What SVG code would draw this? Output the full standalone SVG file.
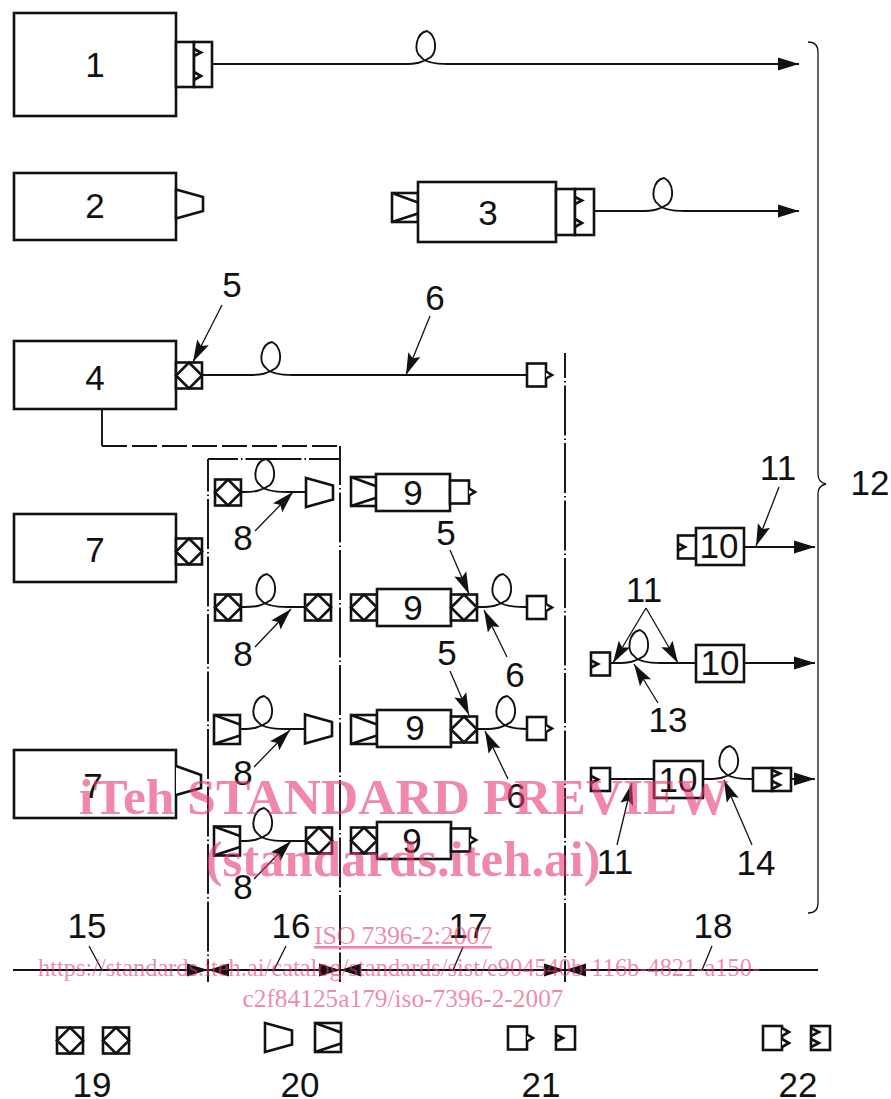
<svg xmlns="http://www.w3.org/2000/svg" width="891" height="1099" viewBox="0 0 891 1099">
<style>
text{font-family:"Liberation Sans",Arial,sans-serif;font-size:35px;fill:#111;text-anchor:middle}
.b{fill:#fff;stroke:#111;stroke-width:2.6;stroke-linejoin:miter}
.n{fill:none;stroke:#111;stroke-width:2.6}
.f{fill:none;stroke:#111;stroke-width:1.9}
.l{fill:none;stroke:#111;stroke-width:1.3}
.dd{fill:none;stroke:#111;stroke-width:1.9;stroke-dasharray:50 3 1.5 3}
.w{font-family:"Liberation Serif","Times New Roman",serif;fill:#e63a70;fill-opacity:.6}
.wb{font-weight:bold;font-size:51px}
.ws{font-size:26px}
</style>
<defs>
<marker id="a" markerUnits="userSpaceOnUse" viewBox="-24 -8 25 16" refX="0" refY="0" markerWidth="25" markerHeight="16" orient="auto"><path d="M0,0L-22,-6.500L-18,0L-22,6.500Z" fill="#111"/></marker>
<marker id="e" markerUnits="userSpaceOnUse" viewBox="-24 -8 25 16" refX="0" refY="0" markerWidth="25" markerHeight="16" orient="auto"><path d="M0,0L-21,-6.500L-21,6.500Z" fill="#111"/></marker>
<g id="dia"><rect class="b" x="0" y="-13" width="26" height="26"/><path class="n" d="M13,-13L26,0L13,13L0,0Z"/></g>
<g id="wedge"><rect class="b" x="0" y="-14.5" width="26" height="29"/><path class="n" d="M0,-14.5L26,-5M0,14.5L26,6"/></g>
<path id="trap" class="b" d="M0,-14.5L27,-7L27,7L0,14.5Z"/>
<path id="loop" class="f" d="M-22,1C-10,1 -4,0 5,-6C11,-12 11,-27 1,-32C-10,-30 -13,-12 -5,-6C-2,-2 6,1 22,1"/>
<g id="pin"><rect class="b" x="0" y="-11.5" width="19" height="23"/><path class="b" d="M19,-3.5L25,0L19,3.5"/></g>
<g id="sock"><rect class="b" x="0" y="-11.5" width="19" height="23"/><path class="n" d="M0,-3.5L7,0L0,3.5"/></g>
</defs>

<g id="connectors">
<path class="f" d="M212,64H404M448,64H799" marker-end="url(#e)"/>
<use href="#loop" x="426" y="63"/>
<path class="f" d="M594,211H641M685,211H799" marker-end="url(#e)"/><use href="#loop" x="663" y="210"/>
<path class="f" d="M201,375H249M293,375H527"/><use href="#loop" x="271" y="374"/>
<path class="f" d="M241,492H243M287,492H306"/><use href="#loop" x="265" y="491"/>
<path class="f" d="M241,607H244M288,607H305"/><use href="#loop" x="266" y="606"/>
<path class="f" d="M240,729H241M285,729H305"/><use href="#loop" x="263" y="728"/>
<path class="f" d="M240,841H241M285,841H305"/><use href="#loop" x="263" y="840"/>
<path class="f" d="M477,607H480M524,607H527"/><use href="#loop" x="502" y="606"/>
<path class="f" d="M477,729H484M526,729H527"/><use href="#loop" x="506" y="728"/>
<path class="f" d="M744,547H815" marker-end="url(#e)"/>
<path class="f" d="M610,663H617M661,663H696"/><use href="#loop" x="639" y="662"/>
<path class="f" d="M744,663H815" marker-end="url(#e)"/>
<path class="f" d="M610,779H654M703,779H707M751,779H753"/><use href="#loop" x="729" y="778"/>
<path class="f" d="M791,779H815" marker-end="url(#e)"/>
<path class="dd" d="M102,409V446" style="stroke-dasharray:none"/>
<path class="dd" d="M102,446H340" style="stroke-dasharray:25 5"/>
<path class="dd" d="M340,446V459" style="stroke-dasharray:none"/>
<path class="dd" d="M208,459H340" style="stroke-dasharray:30 3 1.5 3 56 3 1.5 3"/>
<path class="dd" d="M208,459V982" style="stroke-dashoffset:17.5"/>
<path class="dd" d="M340,459V982" style="stroke-dashoffset:24"/>
<path class="dd" d="M565,353V982" style="stroke-dashoffset:25"/>
<path class="l" d="M808,42C815,42 818,45 818,52V474C818,480 821,483 826,484C821,485 818,488 818,494V903C818,910 815,913 808,913"/>
<path class="f" d="M13,970H818"/>
<path class="f" d="M189,970H208" marker-end="url(#e)"/><path class="f" d="M228,970H208" marker-end="url(#e)"/>
<path class="f" d="M320,970H340" marker-end="url(#e)"/><path class="f" d="M360,970H340" marker-end="url(#e)"/>
<path class="f" d="M546,970H565" marker-end="url(#e)"/><path class="f" d="M585,970H565" marker-end="url(#e)"/>
<path class="l" d="M89,946L102,970M286,946L274,970M463,947L453,970M712,946L702,970"/>
<path class="l" d="M222,305L193,362" marker-end="url(#a)"/>
<path class="l" d="M430,316L406,375" marker-end="url(#a)"/>
<path class="l" d="M255,531L293,492" marker-end="url(#a)"/>
<path class="l" d="M255,647L291,609" marker-end="url(#a)"/>
<path class="l" d="M254,767L290,730" marker-end="url(#a)"/>
<path class="l" d="M254,879L291,841" marker-end="url(#a)"/>
<path class="l" d="M450,550L469,594" marker-end="url(#a)"/>
<path class="l" d="M450,671L469,715" marker-end="url(#a)"/>
<path class="l" d="M507,657L484,610" marker-end="url(#a)"/>
<path class="l" d="M508,779L485,731" marker-end="url(#a)"/>
<path class="l" d="M779,487L756,546" marker-end="url(#a)"/>
<path class="l" d="M646,608L613,663" marker-end="url(#a)"/>
<path class="l" d="M646,608L678,663" marker-end="url(#a)"/>
<path class="l" d="M658,703L634,664" marker-end="url(#a)"/>
<path class="l" d="M617,845L632,783" marker-end="url(#a)"/>
<path class="l" d="M752,845L724,780" marker-end="url(#a)"/>
</g>

<g id="node-1"><rect class="b" x="14" y="13" width="162" height="103"/><rect class="b" x="176" y="42" width="18" height="45"/><rect class="b" x="194" y="42" width="18" height="45"/><path class="n" d="M194,49L201,52.500L194,56M194,72L201,76L194,80"/><text x="95" y="77">1</text></g>
<g id="node-2"><rect class="b" x="14" y="173" width="162" height="67"/><use href="#trap" transform="translate(176,204)"/><text x="95" y="218">2</text></g>
<g id="node-3"><use href="#wedge" x="392" y="207.500"/><rect class="b" x="418" y="182" width="138" height="60"/><rect class="b" x="556" y="189" width="19" height="46"/><rect class="b" x="575" y="189" width="19" height="46"/><path class="n" d="M575,197L582,200.500L575,204M575,219L582,223L575,227"/><text x="488" y="225">3</text></g>
<g id="node-4"><rect class="b" x="14" y="341" width="162" height="68"/><use href="#dia" x="176" y="375.500"/><text x="95" y="390">4</text></g>
<g id="node-4-end"><use href="#pin" x="527" y="375"/></g>
<g id="node-7a"><rect class="b" x="14" y="514" width="162" height="68"/><use href="#dia" x="176" y="551.500"/><text x="95" y="562">7</text></g>
<g id="node-7b"><rect class="b" x="14" y="750" width="162" height="68"/><path class="b" d="M176,766L201,775L201,788L176,795"/><text x="93" y="798">7</text></g>

<g id="cord-a"><use href="#dia" x="215" y="492.500"/><use href="#trap" x="306" y="492.500"/></g>
<g id="cord-b"><use href="#dia" x="215" y="607.500"/><use href="#dia" x="305" y="607.500"/></g>
<g id="cord-c"><use href="#wedge" x="214" y="729.500"/><use href="#trap" x="305" y="729"/></g>
<g id="cord-d"><use href="#wedge" x="214" y="841"/><use href="#dia" x="306" y="840.500"/></g>

<g id="node-9a"><use href="#wedge" x="351" y="491.500"/><rect class="b" x="376" y="474" width="74" height="37"/><use href="#pin" x="450" y="492"/><text x="413" y="505">9</text></g>
<g id="node-9b"><use href="#dia" x="351" y="607.500"/><rect class="b" x="377" y="589" width="74" height="37"/><use href="#dia" x="451" y="607.500"/><text x="413" y="620">9</text></g>
<g id="node-9b-end"><use href="#pin" x="527" y="607.500"/></g>
<g id="node-9c"><use href="#wedge" x="351" y="729.500"/><rect class="b" x="377" y="710" width="74" height="37"/><use href="#dia" x="451" y="729.500"/><text x="415" y="740">9</text></g>
<g id="node-9c-end"><use href="#pin" x="527" y="728.500"/></g>
<g id="node-9d"><use href="#dia" x="351" y="840.500"/><rect class="b" x="377" y="822" width="74" height="37"/><use href="#pin" x="451" y="840"/><text x="412" y="853">9</text></g>

<g id="node-10a"><use href="#sock" x="678" y="547"/><rect class="b" x="696" y="528" width="48" height="37"/><text x="719" y="558">10</text></g>
<g id="node-10b"><use href="#sock" x="591" y="664"/><rect class="b" x="696" y="645" width="48" height="37"/><text x="720" y="675">10</text></g>
<g id="node-10c"><use href="#sock" x="591" y="779.500"/><rect class="b" x="654" y="761" width="49" height="37"/><text x="678" y="792">10</text></g>
<g id="node-10c-end"><rect class="b" x="753" y="768" width="19" height="23"/><rect class="b" x="772" y="768" width="19" height="23"/><path class="n" d="M772,770L780,773.500L772,777M772,781L780,785L772,789"/></g>

<g id="legend-19"><use href="#dia" x="57" y="1040.500"/><use href="#dia" x="103" y="1040.500"/><text x="92" y="1097">19</text></g>
<g id="legend-20"><use href="#trap" x="265" y="1037.500"/><use href="#wedge" x="315" y="1037.500"/><text x="300" y="1097">20</text></g>
<g id="legend-21"><use href="#pin" x="508" y="1038"/><use href="#sock" x="556" y="1038"/><text x="541" y="1097">21</text></g>
<g id="legend-22"><rect class="b" x="763" y="1026" width="19" height="24"/><path class="b" d="M782,1028L789,1032L782,1036M782,1039L789,1043L782,1047"/><rect class="b" x="811" y="1026" width="19" height="24"/><path class="n" d="M811,1028L819,1032L811,1036M811,1039L819,1043L811,1047"/><text x="798" y="1097">22</text></g>

<g id="labels">
<text x="232" y="297">5</text><text x="435" y="310">6</text>
<text x="243" y="550">8</text><text x="243" y="666">8</text><text x="243" y="785">8</text><text x="243" y="899">8</text>
<text x="446" y="545">5</text><text x="447" y="665">5</text><text x="515" y="687">6</text><text x="516" y="808">6</text>
<text x="778" y="480">11</text><text x="644" y="602">11</text><text x="668" y="732">13</text><text x="615" y="874">11</text><text x="756" y="875">14</text>
<text x="870" y="495">12</text>
<text x="87" y="938">15</text><text x="291" y="938">16</text><text x="468" y="938">17</text><text x="713" y="938">18</text>
</g>

<g id="watermark">
<text class="w wb" x="404" y="814" textLength="650" lengthAdjust="spacingAndGlyphs">iTeh STANDARD PREVIEW</text>
<text class="w wb" x="403" y="876" textLength="395" lengthAdjust="spacingAndGlyphs">(standards.iteh.ai)</text>
<text class="w ws" x="403" y="944" text-decoration="underline" textLength="178">ISO 7396-2:2007</text>
<text class="w ws" x="399" y="976" textLength="722" lengthAdjust="spacingAndGlyphs">https://standards.iteh.ai/catalog/standards/sist/e904540b-116b-4821-a150-</text>
<text class="w ws" x="403" y="1007" textLength="321" lengthAdjust="spacingAndGlyphs">c2f84125a179/iso-7396-2-2007</text>
</g>
</svg>
